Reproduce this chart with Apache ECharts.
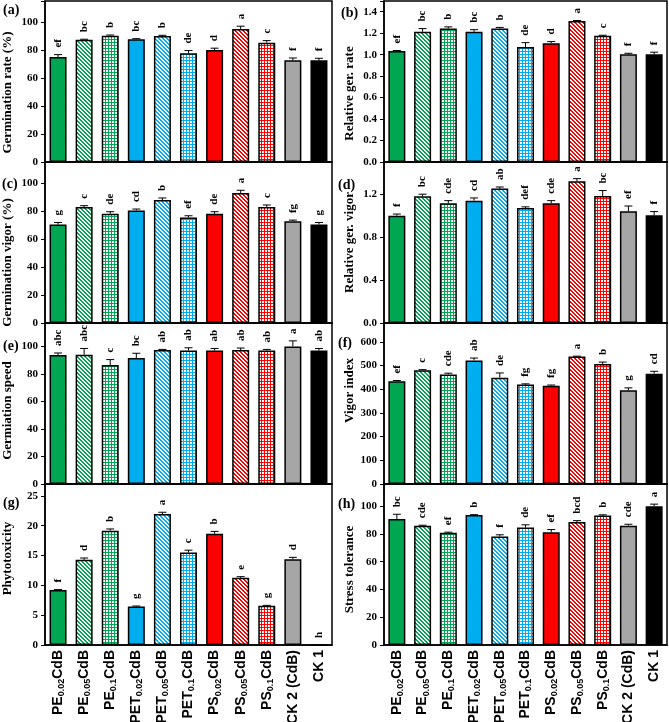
<!DOCTYPE html>
<html>
<head>
<meta charset="utf-8">
<script src="https://cdn.jsdelivr.net/npm/echarts@6/dist/echarts.min.js"></script>
<style>
  html, body { margin: 0; padding: 0; background: #fff; }
  #chart { width: 669px; height: 722px; }
</style>
</head>
<body>
<div id="chart"></div>
<script>
// treatments (x axis)
const categories = ['PE0.02CdB', 'PE0.05CdB', 'PE0.1CdB', 'PET0.02CdB', 'PET0.05CdB', 'PET0.1CdB',
  'PS0.02CdB', 'PS0.05CdB', 'PS0.1CdB', 'CK 2 (CdB)', 'CK 1'];

// (a) Germination rate (%)
const rateVals = [75.0, 87.4, 90.2, 87.6, 90.0, 77.6, 80.0, 95.0, 85.2, 72.6, 72.6];
const rateErr = [1.7, 0.3, 0.5, 0.5, 0.5, 2.0, 1.3, 2.0, 1.5, 1.7, 1.5];
const rateSig = ['ef', 'bc', 'b', 'bc', 'b', 'de', 'd', 'a', 'c', 'f', 'f'];

// (b) Relative ger. rate
const relRateVals = [1.034, 1.213, 1.244, 1.213, 1.244, 1.072, 1.107, 1.313, 1.176, 1.003, 1.003];
const relRateErr = [0.005, 0.03, 0.015, 0.02, 0.01, 0.04, 0.015, 0.005, 0.005, 0.01, 0.02];
const relRateSig = ['ef', 'bc', 'b', 'bc', 'b', 'de', 'd', 'a', 'c', 'f', 'f'];

// (c) Germination vigor (%)
const vigorVals = [70.3, 82.8, 78.0, 80.4, 87.8, 75.4, 78.0, 92.8, 82.8, 72.7, 70.3];
const vigorErr = [1.5, 1.0, 1.5, 1.0, 1.5, 1.2, 1.5, 2.0, 1.5, 0.8, 1.5];
const vigorSig = ['g', 'c', 'de', 'cd', 'b', 'ef', 'de', 'a', 'c', 'fg', 'g'];

// (d) Relative ger. vigor
const relVigorVals = [1.0, 1.18, 1.115, 1.14, 1.252, 1.072, 1.115, 1.32, 1.184, 1.04, 1.003];
const relVigorErr = [0.015, 0.02, 0.025, 0.025, 0.015, 0.01, 0.025, 0.025, 0.05, 0.05, 0.035];
const relVigorSig = ['f', 'bc', 'cde', 'cd', 'ab', 'def', 'cde', 'a', 'bc', 'ef', 'f'];

// (e) Germiation speed
const speedVals = [93.7, 94.0, 86.4, 91.5, 97.3, 97.0, 97.0, 97.3, 97.0, 100.0, 97.0];
const speedErr = [1.5, 4.5, 4.0, 3.5, 0.5, 2.0, 1.5, 1.5, 0.8, 4.0, 1.5];
const speedSig = ['abc', 'abc', 'c', 'bc', 'ab', 'ab', 'ab', 'ab', 'ab', 'a', 'ab'];

// (f) Vigor index
const indexVals = [434, 480, 463, 522, 449, 420, 415, 538, 507, 396, 466];
const indexErr = [3, 3, 5, 10, 20, 3, 3, 2, 8, 10, 10];
const indexSig = ['ef', 'c', 'cde', 'ab', 'de', 'fg', 'fg', 'a', 'b', 'g', 'cd'];

// (g) Phytotoxicity
const phytoVals = [9.24, 14.29, 19.16, 6.44, 21.96, 15.5, 18.65, 11.26, 6.6, 14.4, 0];
const phytoErr = [0.05, 0.3, 0.3, 0.1, 0.3, 0.4, 0.4, 0.2, 0.05, 0.3, 0];
const phytoSig = ['f', 'd', 'b', 'g', 'a', 'c', 'b', 'e', 'g', 'd', 'h'];

// (h) Stress tolerance
const stressVals = [90.7, 86.0, 80.8, 93.6, 78.1, 84.6, 81.2, 88.6, 93.3, 86.0, 100.0];
const stressErr = [3.5, 0.3, 0.5, 0.3, 1.3, 2.0, 2.0, 1.0, 0.5, 1.0, 1.5];
const stressSig = ['bc', 'cde', 'ef', 'b', 'f', 'de', 'ef', 'bcd', 'b', 'cde', 'a'];

const GREEN = '#00a651';
const BLUE = '#00aeef';
const RED = '#ff0000';
const SERIF = 'Liberation Serif';
const SANS = 'Liberation Sans';

// small canvas patterns for hatched bars
function pattern(color, kind) {
  const n = kind === 'diag' ? 4 : 3;
  const c = document.createElement('canvas');
  c.width = n;
  c.height = n;
  const ctx = c.getContext('2d');
  ctx.fillStyle = '#fff';
  ctx.fillRect(0, 0, n, n);
  ctx.fillStyle = color;
  for (let x = 0; x < n; x++) {
    for (let y = 0; y < n; y++) {
      const on = kind === 'diag' ? ((x - y + n) % n < 2) : (x === 0 || y === 0);
      if (on) ctx.fillRect(x, y, 1, 1);
    }
  }
  return { image: c, repeat: 'repeat' };
}

const fills = [
  GREEN, pattern(GREEN, 'diag'), pattern(GREEN, 'grid'),
  BLUE, pattern(BLUE, 'diag'), pattern(BLUE, 'grid'),
  RED, pattern(RED, 'diag'), pattern(RED, 'grid'),
  '#a6a6a6', '#000000'
];

// panel list: label, y name, values, errors, letters, axis max, interval, decimals, name shift
const panels = [
  { tag: '(a)', name: 'Germination rate (%)', vals: rateVals, err: rateErr, sig: rateSig, max: 115, step: 20, dec: 0, shift: 11 },
  { tag: '(b)', name: 'Relative ger. rate', vals: relRateVals, err: relRateErr, sig: relRateSig, max: 1.5, step: 0.2, dec: 1, shift: 12 },
  { tag: '(c)', name: 'Germination vigor (%)', vals: vigorVals, err: vigorErr, sig: vigorSig, max: 115, step: 20, dec: 0, shift: 20 },
  { tag: '(d)', name: 'Relative ger. vigor', vals: relVigorVals, err: relVigorErr, sig: relVigorSig, max: 1.5, step: 0.4, dec: 1, shift: 0 },
  { tag: '(e)', name: 'Germiation speed', vals: speedVals, err: speedErr, sig: speedSig, max: 117, step: 20, dec: 0, shift: 7 },
  { tag: '(f)', name: 'Vigor index', vals: indexVals, err: indexErr, sig: indexSig, max: 680, step: 100, dec: 0, shift: -13 },
  { tag: '(g)', name: 'Phytotoxicity', vals: phytoVals, err: phytoErr, sig: phytoSig, max: 27, step: 5, dec: 0, shift: -6 },
  { tag: '(h)', name: 'Stress tolerance', vals: stressVals, err: stressErr, sig: stressSig, max: 116, step: 20, dec: 0, shift: 5 }
];

const rowTops = [1, 162, 323, 484];
const rowH = 161;
const tagPos = [[3, 3], [341, 6], [2, 177], [338, 178], [3, 339], [338, 336], [3, 496], [338, 497]];

const grids = [], xAxes = [], yAxes = [], series = [], graphics = [];

function xLabel(name) {
  const m = name.match(/^(PET|PE|PS)([\d.]+)(CdB)$/);
  return m ? m[1] + '{s|' + m[2] + '}' + m[3] : name;
}

panels.forEach((p, k) => {
  const col = k % 2;
  const row = Math.floor(k / 2);
  grids.push({
    left: col === 0 ? 45 : 384,
    width: col === 0 ? 287 : 283,
    top: rowTops[row],
    height: rowH,
    show: true,
    borderColor: '#000',
    borderWidth: 1.5,
    backgroundColor: 'transparent',
    outerBoundsMode: 'none'
  });
  const bottomRow = row === 3;
  xAxes.push({
    type: 'category',
    gridIndex: k,
    data: categories,
    boundaryGap: true,
    axisLine: { lineStyle: { color: '#000', width: 1.5 } },
    axisTick: { show: false },
    axisLabel: {
      show: bottomRow,
      interval: 0,
      rotate: 90,
      margin: 5,
      color: '#000',
      fontFamily: SANS,
      fontWeight: 'bold',
      fontSize: 14,
      lineHeight: 16,
      formatter: xLabel,
      rich: {
        s: { fontFamily: SANS, fontWeight: 'bold', fontSize: 9, color: '#000', verticalAlign: 'bottom', lineHeight: 16, padding: [5, 0, 0, 0] }
      }
    }
  });
  const pad = p.shift >= 0 ? [0, 2 * p.shift, 0, 0] : [0, 0, 0, -2 * p.shift];
  yAxes.push({
    type: 'value',
    gridIndex: k,
    min: 0,
    max: p.max,
    interval: p.step,
    name: p.name,
    nameLocation: 'middle',
    nameGap: col === 0 ? 31 : 28,
    nameTextStyle: { fontFamily: SERIF, fontWeight: 'bold', fontSize: 13, color: '#000', padding: pad },
    axisLine: { show: true, lineStyle: { color: '#000', width: 1.5 } },
    axisTick: { show: true, inside: false, length: 4, lineStyle: { color: '#000' } },
    splitLine: { show: false },
    axisLabel: {
      color: '#000',
      fontFamily: SERIF,
      fontWeight: 'bold',
      fontSize: 11,
      margin: 7,
      formatter: v => {
        const r = v / p.step;
        if (Math.abs(r - Math.round(r)) > 1e-6) return '';
        return v.toFixed(p.dec);
      }
    }
  });
  series.push({
    type: 'bar',
    xAxisIndex: k,
    yAxisIndex: k,
    barWidth: 17,
    data: p.vals.map((v, i) => ({ value: v, itemStyle: { color: fills[i] } })),
    itemStyle: { borderColor: '#000', borderWidth: 1.5 },
    emphasis: { disabled: true },
    animation: false
  });
  // error bars (upper only)
  series.push({
    type: 'custom',
    xAxisIndex: k,
    yAxisIndex: k,
    clip: false,
    data: p.vals.map((v, i) => [i, v, p.err[i]]),
    renderItem: (params, api) => {
      const i = api.value(0);
      const v = api.value(1);
      const e = api.value(2);
      const base = api.coord([i, v]);
      const top = api.coord([i, v + e]);
      if (!(e > 0)) return { type: 'group', children: [] };
      return {
        type: 'group',
        children: [
          { type: 'line', shape: { x1: base[0], y1: base[1], x2: top[0], y2: top[1] }, style: { stroke: '#000', lineWidth: 1 } },
          { type: 'line', shape: { x1: top[0] - 4, y1: top[1], x2: top[0] + 4, y2: top[1] }, style: { stroke: '#000', lineWidth: 1 } }
        ]
      };
    },
    animation: false
  });
  graphics.push({
    type: 'text',
    left: tagPos[k][0],
    top: tagPos[k][1],
    style: { text: p.tag, fill: '#000', font: 'bold 14px "Liberation Serif"' }
  });
});

const chart = echarts.init(document.getElementById('chart'));
chart.setOption({
  animation: false,
  backgroundColor: '#fff',
  grid: grids,
  xAxis: xAxes,
  yAxis: yAxes,
  series: series,
  graphic: graphics
});

// significance letters: placed from the axis scales, rotated to read bottom-to-top
const letters = [];
panels.forEach((p, k) => {
  p.vals.forEach((v, i) => {
    const pt = chart.convertToPixel({ gridIndex: k }, [i, v + p.err[i]]);
    letters.push({
      type: 'text',
      x: pt[0],
      y: pt[1] - 7,
      rotation: Math.PI / 2,
      silent: true,
      style: {
        text: p.sig[i],
        fill: '#000',
        font: 'bold 11px "Liberation Serif"',
        align: 'left',
        verticalAlign: 'middle'
      }
    });
  });
});
chart.setOption({ graphic: graphics.concat(letters) });
</script>
</body>
</html>
